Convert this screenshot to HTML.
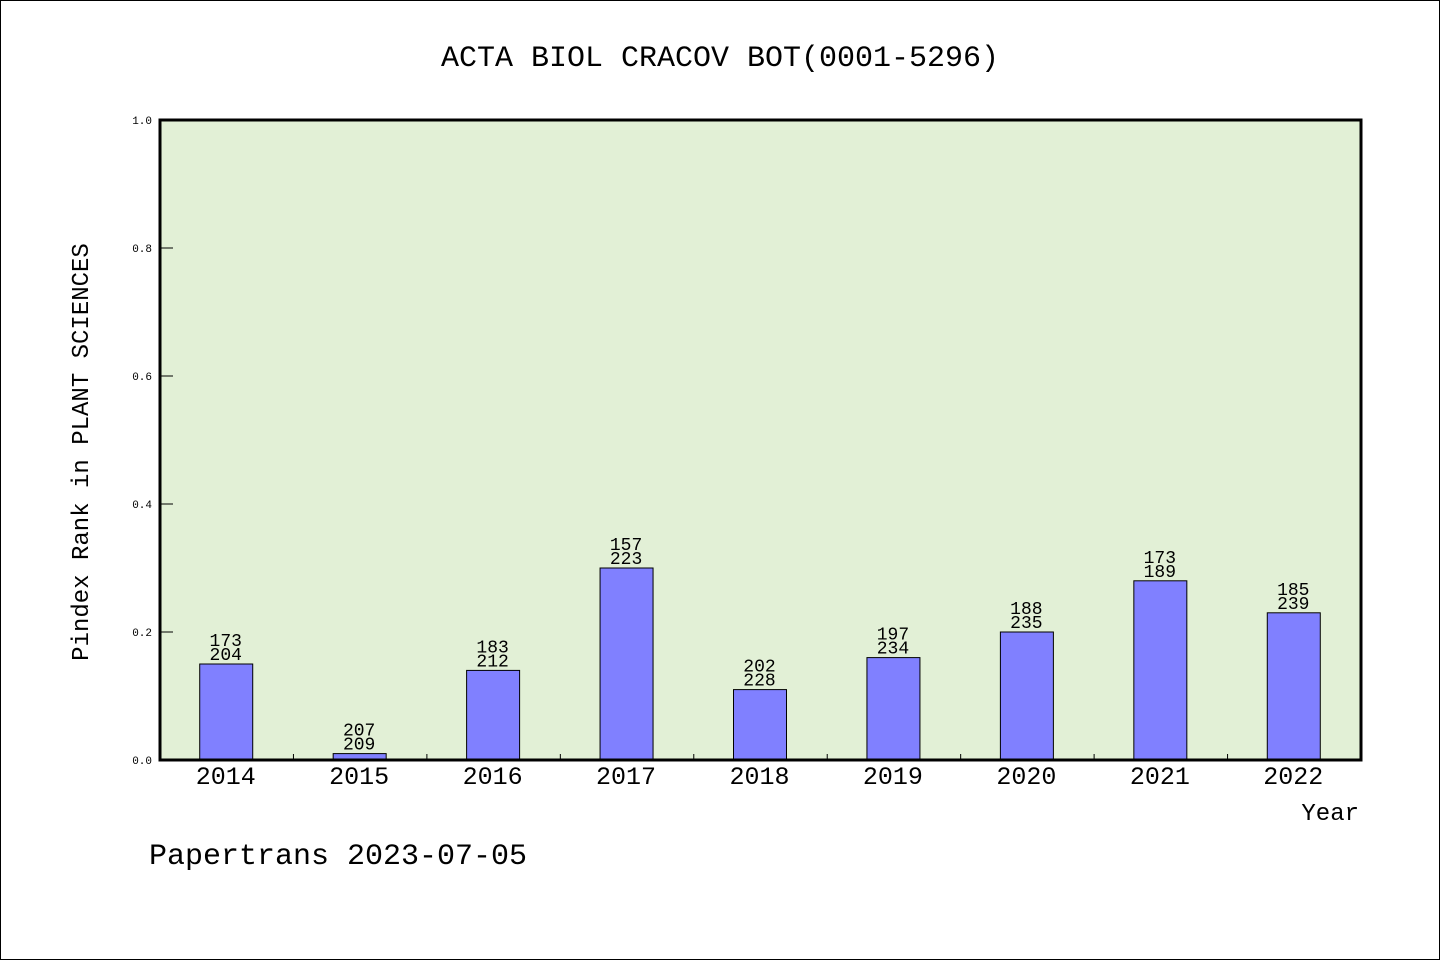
<!DOCTYPE html>
<html><head><meta charset="utf-8"><style>
html,body{margin:0;padding:0;background:#fff}
svg{display:block}
svg text{font-family:"WenQuanYi Zen Hei","Liberation Mono",monospace;fill:#000}
</style></head><body>
<svg id="chart" width="1440" height="960">
<rect x="0.5" y="0.5" width="1439" height="959" fill="#fff" stroke="#000" stroke-width="1"/>
<text x="720" y="66" font-size="30" text-anchor="middle">ACTA BIOL CRACOV BOT(0001-5296)</text>
<rect x="160" y="120" width="1201" height="640" fill="#e2f0d6"/>
<g id="marks"></g>
<rect x="160" y="120" width="1201" height="640" fill="none" stroke="#000" stroke-width="3"/>
<text x="0" y="0" font-size="24" text-anchor="middle" transform="translate(88,452) rotate(-90)">Pindex Rank in PLANT SCIENCES</text>
<text x="1359" y="820" font-size="24" text-anchor="end">Year</text>
<text x="149" y="864" font-size="30">Papertrans 2023-07-05</text>
</svg>
<script>
const categories=["2014","2015","2016","2017","2018","2019","2020","2021","2022"];
const values=[0.15,0.01,0.14,0.30,0.11,0.16,0.20,0.28,0.23];
const labelTop=["173","207","183","157","202","197","188","173","185"];
const labelBottom=["204","209","212","223","228","234","235","189","239"];
const yTicks=[0,0.2,0.4,0.6,0.8,1.0];
const X0=160,X1=1361,Y0=760,Y1=120;
const band=(X1-X0)/categories.length;
const xc=i=>X0+band*(i+0.5);
const y=v=>Y0-(Y0-Y1)*v;
const g=document.getElementById('marks');
const NS='http://www.w3.org/2000/svg';
function mk(t,a){const e=document.createElementNS(NS,t);for(const k in a)e.setAttribute(k,a[k]);g.appendChild(e);return e;}
yTicks.forEach(t=>{
 const l=mk('line',{x1:X0,x2:X0+13,y1:y(t),y2:y(t),stroke:'#000','stroke-width':1});
 
 
 const tx=mk('text',{x:X0-8,y:y(t)+4,'font-size':11,'text-anchor':'end'});
 tx.textContent=t.toFixed(1);
 
 
});
categories.forEach((c,i)=>{
 if(i>0){const l=mk('line',{x1:X0+band*i,x2:X0+band*i,y1:Y0,y2:Y0-6,stroke:'#000','stroke-width':1});
 
 }
 const r=mk('rect',{x:xc(i)-27,y:y(values[i]),width:53,height:Y0-y(values[i]),fill:'#8080ff',stroke:'#000','stroke-width':1});
 
 
 const a=mk('text',{x:xc(i)-1,y:y(values[i])-18,'font-size':18,'text-anchor':'middle'});a.textContent=labelTop[i];
 
 
 const b=mk('text',{x:xc(i)-1,y:y(values[i])-4,'font-size':18,'text-anchor':'middle'});b.textContent=labelBottom[i];
 
 
 const xl=mk('text',{x:xc(i)-1,y:784,'font-size':25,'text-anchor':'middle'});xl.textContent=c;
 
 
});
</script>
</body></html>
